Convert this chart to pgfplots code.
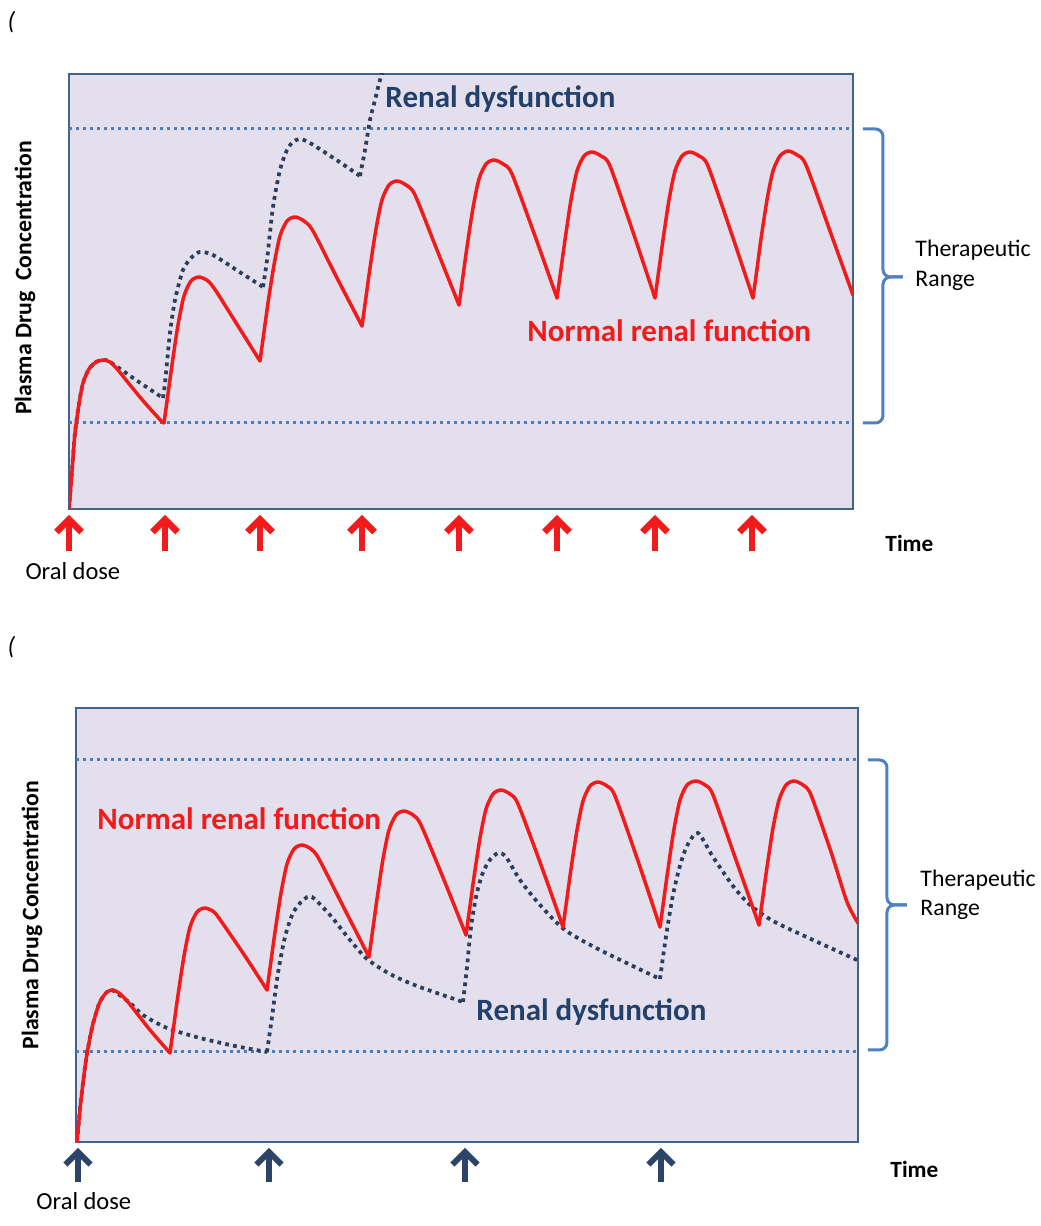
\documentclass[border=0pt]{standalone}
\usepackage{pgfplots}
\pgfplotsset{compat=1.18}
\usepackage{fontspec}
\setmainfont{Carlito}
\usetikzlibrary{arrows.meta}

\definecolor{bgpanel}{HTML}{E4DFEC}
\definecolor{framecol}{HTML}{41628C}
\definecolor{rangeblue}{HTML}{4A7EBB}
\definecolor{renalcol}{HTML}{2B3E5C}
\definecolor{renaltext}{HTML}{22406A}
\definecolor{normred}{HTML}{F21B1B}
\definecolor{dosenavy}{HTML}{2B4468}
\definecolor{bracecol}{HTML}{4F81BD}

% x = time (px from left edge of box), y = concentration (px above bottom of box)
% each dosing interval is its own smooth piece so the troughs stay sharp
\pgfplotsset{
  panel/.style={scale only axis, xmin=0, ymin=0, xtick=\empty, ytick=\empty,
    axis background/.style={fill=bgpanel},
    axis line style={draw=framecol, line width=1pt}},
  normal/.style={normred, line width=1.4pt, line join=round, line cap=round, smooth, tension=0.45},
  renal/.style={renalcol, line width=1.5pt, dash pattern=on 1.5pt off 1.7pt, smooth, tension=0.45},
  range/.style={rangeblue, line width=1.2pt, dash pattern=on 1.2pt off 1.6pt},
}

\begin{document}
\begin{tikzpicture}
\useasboundingbox (0,0) rectangle (416.4pt,490.4pt);

% ---- top panel: dose every interval ----
\begin{axis}[panel, at={(27.6pt,286.8pt)}, anchor=south west,
  width=313.6pt, height=174pt, xmax=784, ymax=435]
\addplot[range] coordinates {(0,380)(784,380)};
\addplot[range] coordinates {(0,86)(784,86)};
% renal dysfunction
\addplot[renal] coordinates {(0,0)(3,38)(6,76)(10,105)(14,126)(20,140)(27,147)(34,149)(41,147)(67,129)(94,111)};
\addplot[renal] coordinates {(94,111)(96,126)(101,176)(106,209)(114,239)(123,252)(131,257)(144,254)(169,238)(194,222)};
\addplot[renal] coordinates {(194,222)(198,249)(204,302)(211,339)(218,359)(224,367)(231,370)(241,366)(266,350)(291,333)};
\addplot[renal] coordinates {(291,333)(296,359)(301,389)(306,409)(311,429)(318,452)};
% normal renal function
\addplot[normal] coordinates {(0,0)(3,38)(6,76)(10,105)(14,126)(20,140)(27,147)(34,149)(41,147)(49,139)(61,124)(76,106)(94,86)};
\addplot[normal] coordinates {(95,86)(99,115)(103,144)(109,184)(115,213)(122,228)(130,232)(139,228)(147,218)(169,183)(191,148)};
\addplot[normal] coordinates {(191,148)(195,177)(199,206)(205,244)(211,273)(218,288)(226,292)(235,288)(244,278)(268,231)(293,183)};
\addplot[normal] coordinates {(293,183)(297,212)(301,241)(307,280)(313,309)(320,324)(328,328)(337,324)(346,314)(368,259)(390,204)};
\addplot[normal] coordinates {(390,204)(394,233)(398,262)(404,301)(410,330)(417,345)(425,349)(434,345)(443,335)(466,273)(488,211)};
\addplot[normal] coordinates {(488,211)(492,240)(496,269)(502,309)(508,338)(515,353)(523,357)(532,353)(541,343)(564,277)(586,211)};
\addplot[normal] coordinates {(586,211)(590,240)(594,269)(600,309)(606,338)(613,353)(621,357)(630,353)(639,343)(662,277)(684,211)};
\addplot[normal] coordinates {(684,211)(688,240)(692,270)(698,309)(704,338)(711,353)(719,358)(728,354)(737,344)(761,278)(784,214)};
\end{axis}

% ---- bottom panel: dose every second interval ----
\begin{axis}[panel, at={(30.4pt,33.6pt)}, anchor=south west,
  width=312.8pt, height=173.6pt, xmax=782, ymax=434]
\addplot[range] coordinates {(0,383)(782,383)};
\addplot[range] coordinates {(0,90)(782,90)};
% renal dysfunction
\addplot[renal] coordinates {(1,0)(5,42)(10,82)(16,114)(23,138)(30,149)(36,152)(54,139)(67,127)(91,114)(124,104)(159,96)(191,90)};
\addplot[renal] coordinates {(191,90)(196,125)(202,169)(209,205)(217,229)(227,242)(236,245)(254,227)(274,202)(291,183)(314,168)(341,156)(387,140)};
\addplot[renal] coordinates {(387,140)(391,175)(395,215)(400,245)(406,267)(413,281)(422,289)(430,285)(444,262)(464,237)(489,212)(524,192)(584,163)};
\addplot[renal] coordinates {(584,163)(587,185)(591,212)(596,242)(601,265)(606,283)(612,298)(622,309)(637,285)(657,256)(674,237)(697,221)(737,202)(781,182)};
% normal renal function
\addplot[normal] coordinates {(1,0)(5,42)(10,82)(16,114)(23,138)(30,149)(36,152)(43,149)(52,140)(74,112)(94,89)};
\addplot[normal] coordinates {(94,89)(98,118)(102,147)(108,186)(114,215)(121,230)(129,234)(138,230)(145,221)(169,186)(191,152)};
\addplot[normal] coordinates {(191,152)(195,181)(199,210)(205,249)(211,278)(218,293)(226,297)(235,293)(243,283)(268,234)(293,185)};
\addplot[normal] coordinates {(293,185)(297,214)(301,243)(307,283)(313,312)(320,327)(328,331)(337,327)(345,317)(368,262)(390,207)};
\addplot[normal] coordinates {(390,207)(394,236)(398,265)(404,304)(410,333)(417,348)(425,352)(434,348)(442,338)(465,277)(487,215)};
\addplot[normal] coordinates {(487,215)(491,244)(495,273)(501,312)(507,341)(514,356)(522,360)(531,356)(539,346)(562,281)(584,215)};
\addplot[normal] coordinates {(584,215)(588,244)(592,273)(598,313)(604,342)(611,357)(620,361)(629,357)(637,347)(660,282)(683,217)};
\addplot[normal] coordinates {(683,217)(687,246)(691,275)(697,314)(703,342)(710,357)(718,361)(727,357)(735,347)(755,290)(771,240)(782,219)};
\end{axis}

% ---- annotations, in picture pixels (y down) ----
\begin{scope}[x=0.4pt, y=-0.4pt, shift={(0,490.4pt)}]
\tikzset{dose/.style={line width=2.6pt, -{Straight Barb[length=5pt,width=10pt]}},
  lbl/.style={inner sep=0pt, anchor=base west},
  brc/.style={bracecol, line width=1.2pt, rounded corners=3pt}}
% top
\node[lbl, font=\fontsize{10}{12}\selectfont\itshape] at (7,30) {(};
\node[rotate=90, inner sep=0pt, font=\fontsize{9.5}{11}\selectfont\bfseries] at (25,278) {Plasma Drug~~Concentration};
\node[lbl, text=renaltext, font=\fontsize{12.4}{14}\selectfont\bfseries] at (385,108) {Renal dysfunction};
\node[lbl, text=normred, font=\fontsize{12.4}{14}\selectfont\bfseries] at (527,342) {Normal renal function};
\draw[brc] (863,129) -- (883,129) -- (883,277) -- (903,277);
\draw[brc] (863,423) -- (883,423) -- (883,277) -- (903,277);
\node[lbl, font=\fontsize{9.5}{12}\selectfont] at (915,257) {Therapeutic};
\node[lbl, font=\fontsize{9.5}{12}\selectfont] at (915,287) {Range};
\foreach \x in {69,165,260,362,459,557,655,752}
  \draw[dose, normred] (\x,551) -- (\x,515);
\node[lbl, font=\fontsize{9.3}{11}\selectfont\bfseries] at (885,552) {Time};
\node[lbl, font=\fontsize{9.8}{12}\selectfont] at (25,580) {Oral dose};
% bottom
\node[lbl, font=\fontsize{10}{12}\selectfont\itshape] at (7,655) {(};
\node[rotate=90, inner sep=0pt, font=\fontsize{9.5}{11}\selectfont\bfseries] at (32,915) {Plasma Drug Concentration};
\node[lbl, text=normred, font=\fontsize{12.4}{14}\selectfont\bfseries] at (97,830) {Normal renal function};
\node[lbl, text=renaltext, font=\fontsize{12.4}{14}\selectfont\bfseries] at (476,1021) {Renal dysfunction};
\draw[brc] (868,760) -- (887,760) -- (887,905) -- (907,905);
\draw[brc] (868,1050) -- (887,1050) -- (887,905) -- (907,905);
\node[lbl, font=\fontsize{9.5}{12}\selectfont] at (920,887) {Therapeutic};
\node[lbl, font=\fontsize{9.5}{12}\selectfont] at (920,916) {Range};
\foreach \x in {78,269,465,661}
  \draw[dose, dosenavy, line width=2.3pt] (\x,1182) -- (\x,1148);
\node[lbl, font=\fontsize{9.3}{11}\selectfont\bfseries] at (890,1178) {Time};
\node[lbl, font=\fontsize{9.8}{12}\selectfont] at (36,1210) {Oral dose};
\end{scope}
\end{tikzpicture}
\end{document}
